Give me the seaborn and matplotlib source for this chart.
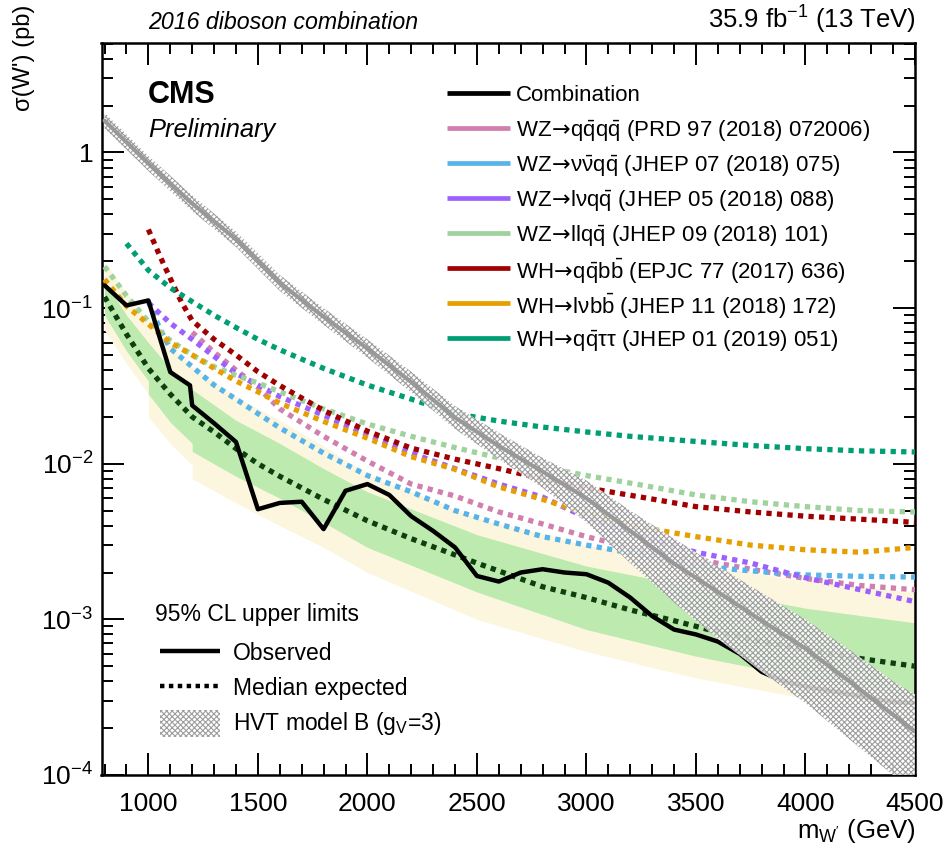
import numpy as np
import pandas as pd
import matplotlib
matplotlib.use("Agg")
import matplotlib.pyplot as plt
import matplotlib.font_manager as fm
from matplotlib.lines import Line2D
from matplotlib.patches import Rectangle
from matplotlib.ticker import MultipleLocator, LogLocator, FuncFormatter, NullFormatter
import seaborn as sns

sns.set_style("ticks")
_avail = {f.name for f in fm.fontManager.ttflist}
FONT = "Liberation Sans Narrow" if "Liberation Sans Narrow" in _avail else "Liberation Sans"
plt.rcParams["font.family"] = [FONT, "DejaVu Sans"]
plt.rcParams["mathtext.fontset"] = "custom"
plt.rcParams["mathtext.rm"] = FONT
plt.rcParams["mathtext.it"] = FONT + ":italic"
plt.rcParams["mathtext.bf"] = FONT + ":bold"
plt.rcParams["mathtext.sf"] = "DejaVu Sans"
plt.rcParams["hatch.linewidth"] = 0.8
for key in ("text.color", "axes.labelcolor", "xtick.color", "ytick.color",
            "axes.edgecolor"):
    plt.rcParams[key] = "black"

# ---------------- data (cross-section limits in pb vs W' mass in GeV) ----------------
obs_mass = [800, 900, 1000, 1100, 1190, 1200, 1300, 1400, 1500, 1600, 1700, 1800, 1900,
            2000, 2100, 2200, 2300, 2400, 2500, 2600, 2700, 2800, 2900, 3000, 3100, 3200,
            3300, 3400, 3500, 3600, 3700, 3800, 3900, 4000, 4100, 4200, 4300, 4400, 4500]
obs_limit = [0.140, 0.104, 0.112, 0.0388, 0.0319, 0.0237, 0.0182, 0.0138, 0.0051, 0.0056,
             0.0057, 0.0038, 0.0067, 0.0074, 0.0063, 0.0046, 0.0037, 0.0029, 0.0019, 0.00175,
             0.0020, 0.0021, 0.0020, 0.00195, 0.00172, 0.00138, 0.00105, 0.00086, 0.00080,
             0.00072, 0.00060, 0.00046, 0.00040, 0.00037, 0.00035, 0.00033, 0.00031, 0.000295,
             0.00029]

exp_mass = [800, 900, 1000, 1100, 1200, 1300, 1400, 1500, 1600, 1800, 2000, 2200, 2500,
            2800, 3000, 3200, 3400, 3600, 3800, 4000, 4250, 4500]
exp_limit = [0.118, 0.068, 0.041, 0.028, 0.020, 0.0160, 0.0125, 0.0100, 0.0083, 0.0059,
             0.0043, 0.0033, 0.0023, 0.00162, 0.00138, 0.00115, 0.00098, 0.00083, 0.00072,
             0.00064, 0.00056, 0.00050]

band_mass = [800, 900, 1000, 1000, 1100, 1200, 1200, 1400, 1600, 1800, 2000, 2500, 3000,
             3500, 4000, 4500]
band_m2 = [0.072, 0.044, 0.028, 0.020, 0.0135, 0.0098, 0.0080, 0.0056, 0.0040, 0.0029,
           0.0020, 0.00100, 0.00062, 0.00042, 0.00031, 0.00024]
band_m1 = [0.090, 0.053, 0.034, 0.028, 0.0185, 0.0135, 0.0120, 0.0083, 0.0060, 0.0042,
           0.0029, 0.00150, 0.00086, 0.00058, 0.00042, 0.00031]
band_p1 = [0.150, 0.090, 0.060, 0.060, 0.041, 0.030, 0.030, 0.019, 0.0135, 0.0093, 0.0066,
           0.0035, 0.0022, 0.0016, 0.00118, 0.00095]
band_p2 = [0.200, 0.125, 0.082, 0.085, 0.058, 0.042, 0.042, 0.027, 0.0190, 0.0130, 0.0086,
           0.0045, 0.0030, 0.0023, 0.00175, 0.00150]

hvt_mass = [800, 1000, 1200, 1400, 1600, 1800, 2000, 2200, 2400, 2600, 2800, 3000, 3200,
            3400, 3600, 3800, 4000, 4200, 4400, 4500]
hvt_xsec = [1.60, 0.85, 0.47, 0.277, 0.145, 0.088, 0.055, 0.0335, 0.0198, 0.0130, 0.0089,
            0.0060, 0.0037, 0.00228, 0.00150, 0.00098, 0.00065, 0.00040, 0.000244, 0.00019]
hvt_hi = [1.80, 0.95, 0.53, 0.31, 0.163, 0.100, 0.063, 0.039, 0.0235, 0.0158, 0.0109,
          0.0078, 0.0050, 0.0033, 0.0022, 0.00148, 0.00100, 0.00064, 0.00040, 0.00033]
hvt_lo = [1.43, 0.76, 0.42, 0.247, 0.129, 0.078, 0.048, 0.0288, 0.0167, 0.0107, 0.0070,
          0.0042, 0.0023, 0.00128, 0.00075, 0.00046, 0.00029, 0.00017, 0.00010, 0.000075]

QB = r"$\bar{\mathrm{q}}$"
BB = r"$\bar{\mathrm{b}}$"
TO = r"$\!\mathsf{\rightarrow}\!$"
channel_labels = [
    "WZ" + TO + "q" + QB + "q" + QB + " (PRD 97 (2018) 072006)",
    "WZ" + TO + "ν" + r"$\bar{\mathrm{\nu}}$" + "q" + QB + " (JHEP 07 (2018) 075)",
    "WZ" + TO + "lνq" + QB + " (JHEP 05 (2018) 088)",
    "WZ" + TO + "llq" + QB + " (JHEP 09 (2018) 101)",
    "WH" + TO + "q" + QB + "b" + BB + " (EPJC 77 (2017) 636)",
    "WH" + TO + "lνb" + BB + " (JHEP 11 (2018) 172)",
    "WH" + TO + "q" + QB + "ττ (JHEP 01 (2019) 051)",
]
channel_colors = ["#d07fae", "#58b4e8", "#9d60ff", "#9fd29c", "#a10000", "#e69f00", "#009e73"]

qqqq_mass = [1200, 1300, 1400, 1500, 1600, 1800, 2000, 2200, 2400, 2600, 2800, 3000, 3250,
             3500, 3750, 4000, 4250, 4500]
qqqq_lim = [0.070, 0.052, 0.040, 0.031, 0.0225, 0.0150, 0.0104, 0.0074, 0.0062, 0.0049,
            0.0041, 0.0034, 0.0028, 0.00243, 0.0021, 0.00183, 0.00165, 0.00155]
vvqq_mass = [1000, 1050, 1100, 1200, 1300, 1400, 1500, 1600, 1800, 2000, 2200, 2400, 2600,
             2800, 3000, 3250, 3500, 3750, 4000, 4250, 4500]
vvqq_lim = [0.110, 0.075, 0.055, 0.042, 0.032, 0.026, 0.021, 0.017, 0.0117, 0.0084, 0.0066,
            0.0050, 0.0041, 0.0034, 0.0030, 0.0026, 0.0022, 0.00205, 0.00193, 0.00189, 0.00187]
lvqq_mass = [1000, 1100, 1200, 1300, 1400, 1500, 1600, 1800, 2000, 2200, 2400, 2600, 2800,
             3000, 3250, 3500, 3750, 4000, 4250, 4500]
lvqq_lim = [0.108, 0.080, 0.063, 0.049, 0.038, 0.032, 0.027, 0.0205, 0.0154, 0.0117, 0.0093,
            0.0074, 0.0061, 0.0045, 0.0034, 0.0027, 0.0023, 0.00185, 0.00155, 0.0013]
llqq_mass = [800, 900, 1000, 1100, 1200, 1300, 1400, 1500, 1600, 1800, 2000, 2200, 2400,
             2600, 2800, 3000, 3250, 3500, 3750, 4000, 4250, 4500]
llqq_lim = [0.185, 0.120, 0.082, 0.062, 0.050, 0.042, 0.037, 0.033, 0.029, 0.0225, 0.018,
            0.0150, 0.0127, 0.0109, 0.0095, 0.0084, 0.0073, 0.0063, 0.0057, 0.0053, 0.0050,
            0.0049]
qqbb_mass = [1000, 1050, 1100, 1150, 1200, 1300, 1400, 1500, 1600, 1800, 2000, 2200, 2400,
             2600, 2800, 3000, 3250, 3500, 3750, 4000, 4250, 4500]
qqbb_lim = [0.32, 0.22, 0.155, 0.110, 0.083, 0.063, 0.050, 0.039, 0.0318, 0.022, 0.0162,
            0.0126, 0.0107, 0.0093, 0.0080, 0.0070, 0.0061, 0.0053, 0.0049, 0.0046, 0.0044,
            0.0042]
lvbb_mass = [800, 900, 1000, 1100, 1200, 1300, 1400, 1500, 1600, 1800, 2000, 2200, 2400,
             2600, 2800, 3000, 3250, 3500, 3750, 4000, 4250, 4500]
lvbb_lim = [0.153, 0.103, 0.079, 0.060, 0.050, 0.041, 0.034, 0.029, 0.0245, 0.0187, 0.0146,
            0.0111, 0.0092, 0.0071, 0.0059, 0.0048, 0.0039, 0.0034, 0.0030, 0.0028, 0.0027,
            0.0029]
qqtt_mass = [900, 1000, 1100, 1200, 1300, 1400, 1500, 1600, 1700, 1800, 2000, 2200, 2400,
             2600, 2800, 3000, 3200, 3500, 3750, 4000, 4250, 4500]
qqtt_lim = [0.26, 0.175, 0.135, 0.110, 0.090, 0.075, 0.063, 0.054, 0.047, 0.041, 0.032,
            0.026, 0.021, 0.0188, 0.0172, 0.0160, 0.0150, 0.0139, 0.0131, 0.0125, 0.0121,
            0.0119]

channel_mass = [qqqq_mass, vvqq_mass, lvqq_mass, llqq_mass, qqbb_mass, lvbb_mass, qqtt_mass]
channel_lim = [qqqq_lim, vvqq_lim, lvqq_lim, llqq_lim, qqbb_lim, lvbb_lim, qqtt_lim]

# ---------------- figure ----------------
W, H = 947, 857
fig = plt.figure(figsize=(W / 100, H / 100), dpi=100)
ax_l, ax_r, ax_t, ax_b = 101.5, 915.0, 43.0, 775.0
ax = fig.add_axes([ax_l / W, 1 - ax_b / H, (ax_r - ax_l) / W, (ax_b - ax_t) / H])
ax.set_facecolor("white")
ax.set_yscale("log")
ax.set_xlim(786, 4500)
ax.set_ylim(1e-4, 5.05)

HATCH = "xxxxxx"
HATCH_COLOR = "#9d9d9d"

# expected bands
ax.fill_between(band_mass, band_m2, band_p2, color="#fdf6df", lw=0, zorder=1)
ax.fill_between(band_mass, band_m1, band_p1, color="#bdeaae", lw=0, zorder=2)

dots = (0, (1.0, 1.0))
for m, lim, col in zip(channel_mass, channel_lim, channel_colors):
    sns.lineplot(x=m, y=lim, ax=ax, color=col, linewidth=3.8, estimator=None, sort=False,
                 zorder=4)
    ln = ax.lines[-1]
    ln.set_linestyle(dots)
    ln.set_dash_capstyle("butt")

sns.lineplot(x=exp_mass, y=exp_limit, ax=ax, color="#0e3f0e", linewidth=3.8,
             estimator=None, sort=False, zorder=5)
ax.lines[-1].set_linestyle(dots)
ax.lines[-1].set_dash_capstyle("butt")

sns.lineplot(x=obs_mass, y=obs_limit, ax=ax, color="black", linewidth=3.2,
             estimator=None, sort=False, zorder=6)

# HVT model B prediction with its uncertainty band
ax.fill_between(hvt_mass, hvt_lo, hvt_hi, facecolor=(1, 1, 1, 0.85), edgecolor=HATCH_COLOR,
                hatch=HATCH, lw=0, zorder=7)
sns.lineplot(x=hvt_mass, y=hvt_xsec, ax=ax, color="#999999", linewidth=3.0,
             estimator=None, sort=False, zorder=8)

# axes styling
for s in ax.spines.values():
    s.set_linewidth(1.8)
    s.set_color("black")
ax.xaxis.set_major_locator(MultipleLocator(500))
ax.xaxis.set_minor_locator(MultipleLocator(100))
ax.yaxis.set_major_locator(LogLocator(base=10, numticks=20))
ax.yaxis.set_minor_locator(LogLocator(base=10, subs=np.arange(2, 10), numticks=20))
ax.yaxis.set_minor_formatter(NullFormatter())


def _ylab(v, _pos):
    e = int(round(np.log10(v)))
    return "1" if e == 0 else r"$10^{%d}$" % e


ax.yaxis.set_major_formatter(FuncFormatter(_ylab))
ax.tick_params(which="both", direction="in", top=True, right=True, color="black",
               labelsize=19, width=1.4)
ax.tick_params(which="major", length=16)
ax.tick_params(which="minor", length=8)
ax.tick_params(axis="x", which="major", pad=12)
ax.tick_params(axis="y", which="major", pad=6)
ax.set_xlabel("")
ax.set_ylabel("")


def fx(px):
    return px / W


def fy(py):
    return 1 - py / H


# header and axis titles
fig.text(fx(148), fy(29), "2016 diboson combination", fontsize=16.7, style="italic",
         ha="left", va="baseline")
fig.text(fx(916), fy(29), r"35.9 fb$^{\mathregular{-1}}$ (13 TeV)", fontsize=18.5,
         ha="right", va="baseline")
fig.text(fx(148), fy(103), "CMS", fontsize=22, weight="bold", ha="left", va="baseline")
fig.text(fx(148), fy(137), "Preliminary", fontsize=18.4, style="italic", ha="left",
         va="baseline")
fig.text(fx(24), fy(5), "σ(W') (pb)", fontsize=17, rotation=90, ha="center", va="top")
fig.text(fx(916), fy(838), r"m$_{\mathrm{W'}}$ (GeV)", fontsize=18.5, ha="right",
         va="baseline")

# legend: channels
row_y = [93, 128, 163, 198, 233, 268, 303, 338]
leg_labels = ["Combination"] + channel_labels
leg_colors = ["black"] + channel_colors
for yy, lab, col in zip(row_y, leg_labels, leg_colors):
    fig.add_artist(Line2D([fx(447), fx(510)], [fy(yy), fy(yy)], color=col, lw=3.4,
                          solid_capstyle="butt"))
    fig.text(fx(516), fy(yy), lab, fontsize=16, ha="left", va="center_baseline")

# legend: limit types
fig.text(fx(155), fy(612), "95% CL upper limits", fontsize=16.5, ha="left",
         va="center_baseline")
fig.add_artist(Line2D([fx(160), fx(220)], [fy(651), fy(651)], color="black", lw=3.2,
                      solid_capstyle="butt"))
fig.text(fx(233), fy(651), "Observed", fontsize=16.5, ha="left", va="center_baseline")
med = Line2D([fx(160), fx(220)], [fy(686), fy(686)], color="black", lw=3.2,
             linestyle=dots)
med.set_dash_capstyle("butt")
fig.add_artist(med)
fig.text(fx(233), fy(686), "Median expected", fontsize=16.5, ha="left",
         va="center_baseline")
fig.add_artist(Rectangle((fx(160), fy(737)), fx(220) - fx(160), fy(710) - fy(737),
                         transform=fig.transFigure, facecolor="white",
                         edgecolor=HATCH_COLOR, hatch=HATCH, lw=0))
fig.text(fx(233), fy(720), r"HVT model B (g$_{\mathrm{V}}$=3)", fontsize=16.5, ha="left",
         va="center_baseline")

fig.savefig("out.png", dpi=100, facecolor="white")
